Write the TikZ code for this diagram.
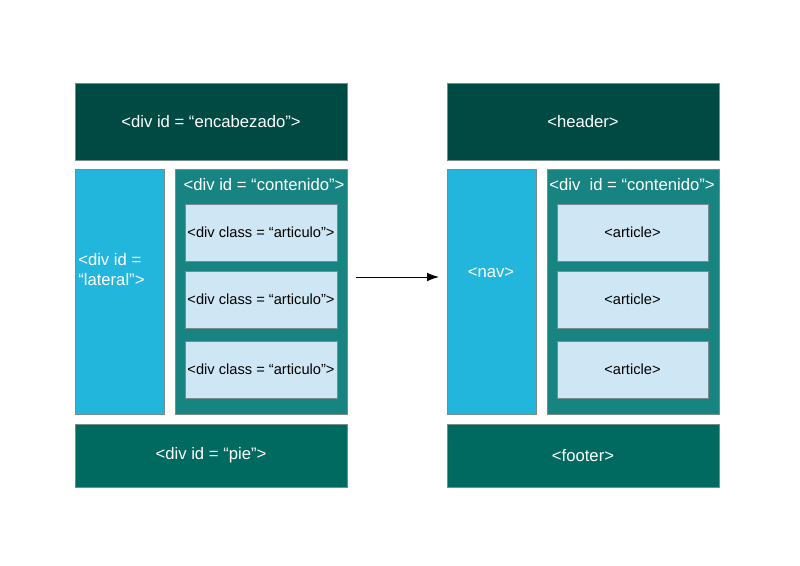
\documentclass[tikz,border=0pt]{standalone}
\usepackage{fontspec}
\setmainfont{Liberation Sans}
\usetikzlibrary{arrows.meta}
\definecolor{cHead}{RGB}{0,74,68}
\definecolor{cFoot}{RGB}{0,106,96}
\definecolor{cMain}{RGB}{24,132,130}
\definecolor{cSide}{RGB}{35,182,220}
\definecolor{cArt}{RGB}{207,231,245}
\definecolor{cEdge}{RGB}{120,140,140}
\tikzset{
  box/.style={draw=cEdge, line width=0.6pt, inner sep=0pt},
  headbox/.style={box, fill=cHead, text=white, minimum width=204pt, minimum height=57.75pt, font=\fontsize{12.5}{15}\selectfont},
  footbox/.style={box, fill=cFoot, text=white, minimum width=204pt, minimum height=47.25pt, font=\fontsize{12.5}{15}\selectfont},
  sidebox/.style={box, fill=cSide, minimum width=66.75pt, minimum height=183.75pt},
  mainbox/.style={box, fill=cMain, minimum width=129pt, minimum height=183.75pt},
  artbox/.style={box, fill=cArt, text=black, minimum width=114pt, minimum height=42.75pt, font=\fontsize{11}{13}\selectfont},
  lbl/.style={text=white, inner sep=0.75pt, font=\fontsize{12.5}{15}\selectfont}
}
\begin{document}
\begin{tikzpicture}[x=0.75pt,y=0.75pt,yscale=-1,xscale=1]
\useasboundingbox (0,0) rectangle (800,565);

% Left layout
\node [headbox] (encab) at (211,121.5) {<div id = “encabezado”>};
\node [sidebox] (lateral) at (119.5,291.5) {};
\node [mainbox] (cont) at (261,291.5) {};
\node [lbl] (contlbl) at (264,185) {<div id = “contenido”>};
\node [artbox] (artA) at (261,232.5) {<div class = “articulo”>};
\node [artbox] (artB) at (261,299.5) {<div class = “articulo”>};
\node [artbox] (artC) at (261,369.5) {<div class = “articulo”>};
\node [footbox] (pie) at (211,455.5) {<div id = “pie”>};
% Text Node
\node [lbl, anchor=west, align=left] (latlbl) at (77,270) {<div id =\\“lateral”>};

% Right layout
\node [headbox] (header) at (583,121.5) {<header>};
\node [sidebox] (nav) at (491.5,291.5) {};
\node [mainbox] (cont2) at (633,291.5) {};
\node [lbl] (cont2lbl) at (632,185) {<div\ \ id = “contenido”>};
\node [artbox, minimum width=113.25pt] (artD) at (632.5,232.5) {<article>};
\node [artbox, minimum width=113.25pt] (artE) at (632.5,299.5) {<article>};
\node [artbox, minimum width=113.25pt] (artF) at (632.5,369.5) {<article>};
\node [footbox] (footer) at (583,455.5) {<footer>};
% Text Node
\node [lbl] (navlbl) at (491,273) {<nav>};

%Straight Lines
\coordinate (arrS) at (356,277);
\coordinate (arrE) at (439,277);
\draw [-{Latex[length=9pt,width=6.5pt]}, line width=0.75pt] (arrS) -- (arrE);

\end{tikzpicture}
\end{document}
